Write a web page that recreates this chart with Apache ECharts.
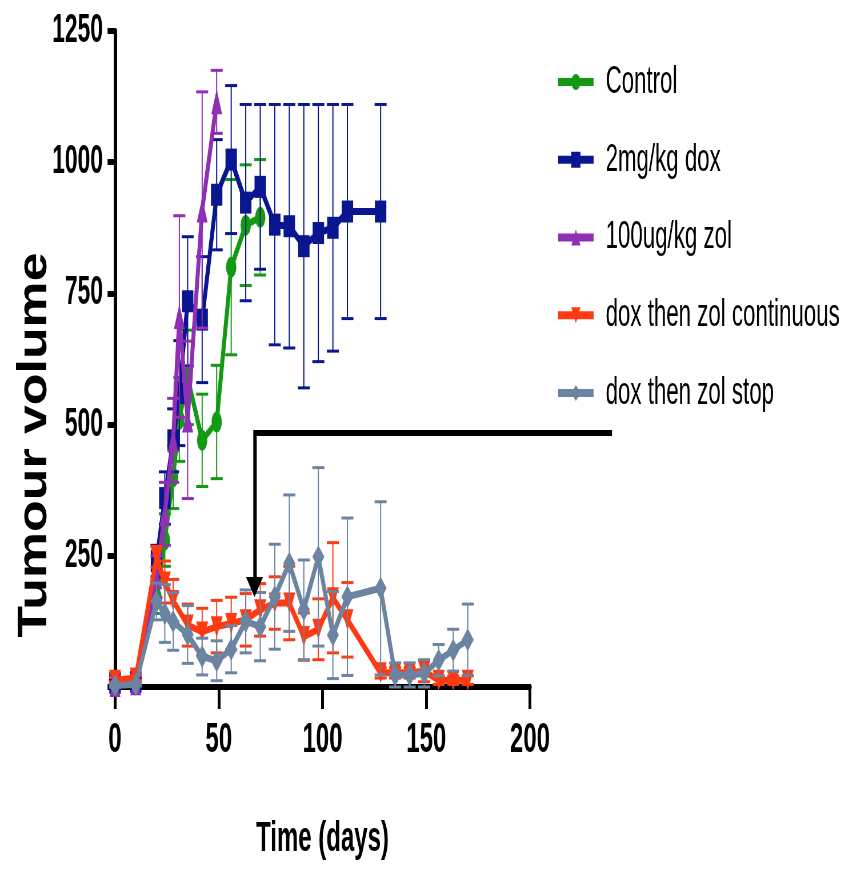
<!DOCTYPE html>
<html><head><meta charset="utf-8">
<script src="https://cdn.jsdelivr.net/npm/echarts@6/dist/echarts.min.js"></script>
<style>
html,body{margin:0;padding:0;overflow:hidden;background:#fff;width:857px;height:870px}
#wrap{width:857px;height:870px;overflow:hidden;position:relative}
#chart{width:1500px;height:870px;transform:scaleX(0.5713333);transform-origin:0 0;position:absolute;left:0;top:0}
</style></head><body>
<div id="wrap"><div id="chart"></div></div>
<script>
const SX = 857 / 1500;
const seriesNames = ['Control', '2mg/kg dox', '100ug/kg zol', 'dox then zol continuous', 'dox then zol stop'];
const seriesColors = ['#129a12', '#0a168f', '#8e2fb4', '#ff3a12', '#6a84a2'];
const xTicks = [0, 50, 100, 150, 200];
const yTicks = [0, 250, 500, 750, 1000, 1250];

const ctrlDays = [0, 10, 20, 24, 28, 31, 35, 42, 49, 56, 63, 70];
const ctrlMean = [10, 12, 170, 280, 400, 510, 590, 470, 505, 800, 880, 895];
const ctrlErr  = [5, 5, 30, 50, 60, 80, 90, 88, 108, 167, 115, 110];

const doxDays = [0, 10, 20, 24, 28, 31, 35, 42, 49, 56, 63, 70, 77, 84, 91, 98, 105, 112, 128];
const doxMean = [8, 10, 240, 360, 470, 560, 735, 700, 938, 1005, 923, 953, 881, 878, 840, 865, 875, 906, 906];
const doxErr  = [5, 5, 30, 50, 60, 100, 123, 120, 105, 141, 187, 157, 229, 232, 270, 245, 235, 204, 204];

const zolDays = [0, 10, 20, 24, 28, 31, 35, 42, 49];
const zolMean = [5, 8, 210, 330, 470, 706, 509, 909, 1115];
const zolErr  = [5, 5, 40, 60, 80, 192, 150, 225, 60];

const contDays = [0, 10, 20, 24, 28, 35, 42, 49, 56, 63, 70, 77, 84, 91, 98, 105, 112, 128, 135, 142, 149, 156, 163, 170];
const contMean = [13, 17, 248, 200, 165, 118, 105, 115, 121, 128, 147, 160, 160, 96, 110, 170, 128, 27, 27, 27, 30, 13, 13, 13];
const contErr  = [5, 5, 20, 40, 40, 40, 45, 50, 50, 50, 50, 50, 70, 45, 58, 105, 71, 10, 10, 10, 20, 8, 8, 8];

const stopDays = [0, 10, 20, 24, 28, 35, 42, 49, 56, 63, 70, 77, 84, 91, 98, 105, 112, 128, 135, 142, 149, 156, 163, 170];
const stopMean = [3, 5, 163, 140, 125, 100, 58, 50, 72, 125, 115, 172, 236, 147, 248, 99, 172, 188, 23, 23, 26, 51, 70, 90];
const stopErr  = [3, 3, 35, 55, 55, 55, 35, 38, 45, 60, 65, 100, 130, 95, 170, 83, 150, 165, 23, 23, 26, 30, 40, 68];

const groups = [
  {days: ctrlDays, mean: ctrlMean, err: ctrlErr, symbol: 'circle', size: [18, 21], rot: 0},
  {days: doxDays, mean: doxMean, err: doxErr, symbol: 'rect', size: [20, 22], rot: 0},
  {days: zolDays, mean: zolMean, err: zolErr, symbol: 'triangle', size: [19, 25], rot: 0},
  {days: contDays, mean: contMean, err: contErr, symbol: 'triangle', size: [21, 21], rot: 180},
  {days: stopDays, mean: stopMean, err: stopErr, symbol: 'diamond', size: [21, 23], rot: 0}
];

const FONT = "'Liberation Sans', Arial, sans-serif";
const chart = echarts.init(document.getElementById('chart'), null, {renderer: 'canvas'});

function errRender(color) {
  return function (params, api) {
    const x = api.value(0), lo = api.value(1), hi = api.value(2);
    const p1 = api.coord([x, hi]), p2 = api.coord([x, lo]);
    const hw = 10.5;
    return {type: 'group', children: [
      {type: 'line', shape: {x1: p1[0], y1: p1[1], x2: p2[0], y2: p2[1]}, style: {stroke: color, lineWidth: 2}},
      {type: 'line', shape: {x1: p1[0] - hw, y1: p1[1], x2: p1[0] + hw, y2: p1[1]}, style: {stroke: color, lineWidth: 3}},
      {type: 'line', shape: {x1: p2[0] - hw, y1: p2[1], x2: p2[0] + hw, y2: p2[1]}, style: {stroke: color, lineWidth: 3}}
    ]};
  };
}

const lineSeries = [], errSeries = [];
groups.forEach((g, i) => {
  const color = seriesColors[i];
  lineSeries.push({
    name: seriesNames[i], type: 'line', z: 3 + 2 * i,
    data: g.days.map((d, k) => [d, g.mean[k]]),
    symbol: g.symbol, symbolSize: g.size, symbolRotate: g.rot, showAllSymbol: true,
    itemStyle: {color: color}, lineStyle: {color: color, width: 7},
    animation: false
  });
  errSeries.push({
    name: seriesNames[i], type: 'custom', z: 2 + 2 * i,
    renderItem: errRender(color),
    encode: {x: 0, y: [1, 2]},
    data: g.days.map((d, k) => [d, Math.max(0, g.mean[k] - g.err[k]), g.mean[k] + g.err[k]]),
    itemStyle: {color: color},
    animation: false
  });
});

const gl = 115 / SX, gr = 1500 - 530 / SX;

chart.setOption({
  backgroundColor: '#fff',
  animation: false,
  grid: {left: gl, right: gr, top: 31, bottom: 870 - 687, containLabel: false},
  legend: {
    data: seriesNames, orient: 'vertical', left: 553 / SX, top: 57,
    itemWidth: 62, itemHeight: 20, itemGap: 37.75,
    lineStyle: {width: 8},
    textStyle: {fontFamily: FONT, fontSize: 39, color: '#000', lineHeight: 40, padding: [0, 0, 0, 16]},
    selectedMode: false
  },
  xAxis: {
    type: 'value', min: xTicks[0], max: xTicks[xTicks.length - 1], interval: 50,
    name: 'Time (days)', nameLocation: 'middle', nameGap: 131,
    nameTextStyle: {fontFamily: FONT, fontSize: 42, fontWeight: 'bold', color: '#000'},
    axisLine: {onZero: true, lineStyle: {color: '#000', width: 6}},
    axisTick: {length: 22, lineStyle: {color: '#000', width: 5}},
    axisLabel: {fontFamily: FONT, fontSize: 42, fontWeight: 'bold', color: '#000', margin: 32},
    splitLine: {show: false}
  },
  yAxis: {
    type: 'value', min: yTicks[0], max: yTicks[yTicks.length - 1], interval: 250,
    axisLine: {show: true, lineStyle: {color: '#000', width: 6}},
    axisTick: {show: true, length: 13, lineStyle: {color: '#000', width: 6}},
    axisLabel: {fontFamily: FONT, fontSize: 40, fontWeight: 'bold', color: '#000', margin: 21,
      formatter: v => (v === 0 ? '' : String(v))},
    splitLine: {show: false}
  },
  graphic: [
    {type: 'text', x: 35 / SX, y: 445, rotation: Math.PI / 2, scaleX: 0.72,
      style: {text: 'Tumour volume', font: "bold 72px 'Liberation Sans', Arial, sans-serif",
        fill: '#000', align: 'center', verticalAlign: 'middle'}},
    {type: 'polyline', shape: {points: [[612 / SX, 433], [255 / SX, 433], [255 / SX, 582]]},
      style: {stroke: '#000', lineWidth: 6, fill: null}, z: 100},
    {type: 'polygon', shape: {points: [[246 / SX, 577], [263 / SX, 577], [254.5 / SX, 597]]},
      style: {fill: '#000'}, z: 100}
  ],
  series: lineSeries.concat(errSeries)
});
</script></body></html>
